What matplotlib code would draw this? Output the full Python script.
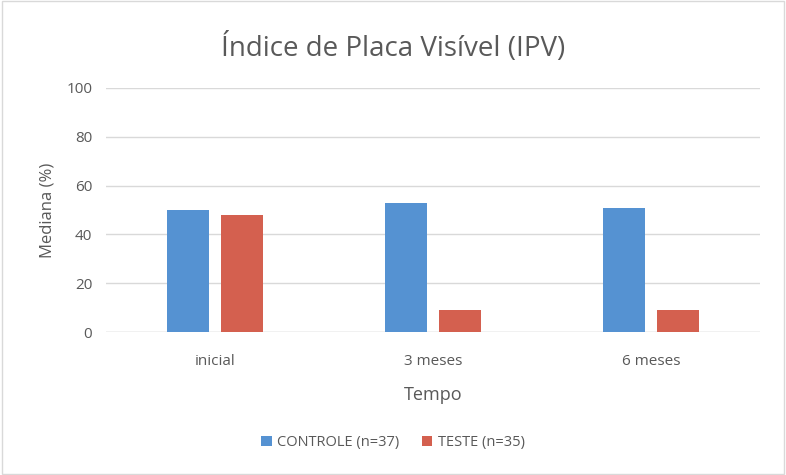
import matplotlib.pyplot as plt
import numpy as np

categorias = ['inicial', '3 meses', '6 meses']
controle = [50, 53, 51]
teste = [48, 9, 9]
rotulos = ['CONTROLE (n=37)', 'TESTE (n=35)']

plt.rcParams['font.family'] = ['Open Sans', 'DejaVu Sans']
cinza = '#595959'

fig = plt.figure(figsize=(7.86, 4.75), dpi=100)
ax = fig.add_axes([0.135, 0.301, 0.832, 0.514])

x = np.arange(len(categorias))
larg = 0.193
ax.bar(x - 0.124, controle, larg, color='#5592d2', label=rotulos[0], zorder=3)
ax.bar(x + 0.124, teste, larg, color='#d4604f', label=rotulos[1], zorder=3)

ax.set_xlim(-0.5, 2.5)
ax.set_ylim(0, 100)
ax.set_yticks(range(0, 101, 20))
ax.set_xticks(x)
ax.set_xticklabels(categorias)
ax.yaxis.grid(True, color='#d9d9d9', linewidth=1, zorder=0)
for s in ax.spines.values():
    s.set_visible(False)
ax.axhline(0, color='#d9d9d9', linewidth=1, zorder=2)
ax.tick_params(length=0, colors=cinza, labelsize=11)
ax.tick_params(axis='x', pad=16)
ax.tick_params(axis='y', pad=10)

ax.set_xlabel('Tempo', color=cinza, fontsize=13, labelpad=12)
ax.set_ylabel('Mediana (%)', color=cinza, fontsize=12, labelpad=8)
fig.text(0.5, 0.9, 'Índice de Placa Visível (IPV)', ha='center', va='center',
         color=cinza, fontsize=20)

fig.legend(loc='center', bbox_to_anchor=(0.5, 0.068), ncol=2, frameon=False,
           fontsize=10.5, labelcolor=cinza, handlelength=0.7, handleheight=0.7,
           columnspacing=1.5, handletextpad=0.4)

fig.patches.append(plt.Rectangle((0.003, 0.003), 0.994, 0.994, transform=fig.transFigure,
                                 fill=False, edgecolor='#d9d9d9', linewidth=1))

fig.savefig('out.png', dpi=100)
